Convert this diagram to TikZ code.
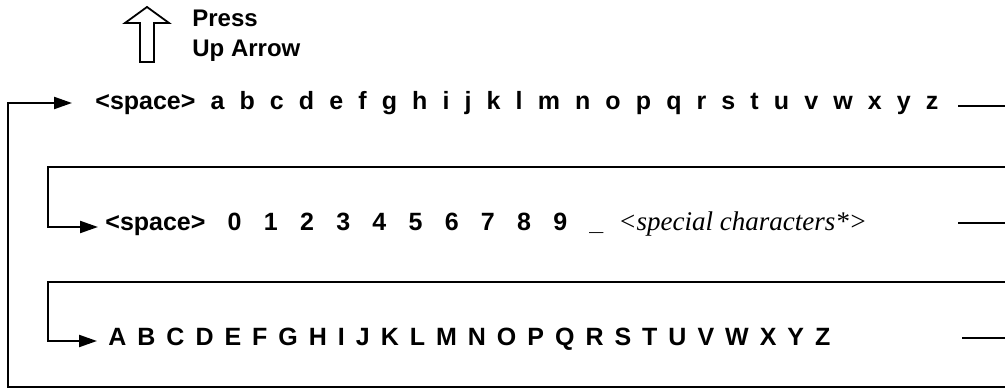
\documentclass[tikz,border=0pt]{standalone}
\usepackage{fontspec}
\setmainfont{Liberation Sans}
\newfontfamily\serifit{Liberation Serif}
\usetikzlibrary{arrows.meta}

\begin{document}
\begin{tikzpicture}[x=0.5pt,y=-0.5pt,
  wire/.style={line width=1.1pt},
  feed/.style={line width=1.1pt,-{Triangle[length=9pt,width=6pt]}},
  chars/.style={anchor=base west,inner sep=0pt,font=\bfseries\fontsize{12.5}{15}\selectfont}]
\useasboundingbox (0,0) rectangle (1005,389);

% outer loop, back to lower case
\coordinate (E0) at (1010,387);
\coordinate (C0) at (8,387);
\coordinate (C1) at (8,103);
\coordinate (In1) at (72,103);
\coordinate (Out1) at (958,106);
\coordinate (X1) at (1010,106);

% loop to digits
\coordinate (E2) at (1010,167);
\coordinate (C2t) at (48,167);
\coordinate (C2b) at (48,227);
\coordinate (In2) at (98,227);
\coordinate (Out2) at (958,223);
\coordinate (X2) at (1010,223);

% loop to upper case
\coordinate (E3) at (1010,282);
\coordinate (C3t) at (48,282);
\coordinate (C3b) at (48,341);
\coordinate (In3) at (97,341);
\coordinate (Out3) at (962,338);
\coordinate (X3) at (1010,338);

% up arrow key
\draw[line width=0.9pt] (147,7) -- (169,23) -- (154,23) -- (154,62) -- (140,62) -- (140,23) -- (125,23) -- cycle;
\node[chars,font=\bfseries\fontsize{12}{15}\selectfont] (press) at (192,27) {Press};
\node[chars,font=\bfseries\fontsize{12}{15}\selectfont] (uparrow) at (192,57) {Up Arrow};

\draw[feed] (E0) -- (C0) -- (C1) -- (In1);
\draw[feed] (E2) -- (C2t) -- (C2b) -- (In2);
\draw[feed] (E3) -- (C3t) -- (C3b) -- (In3);

\draw[wire] (Out1) -- (X1);
\draw[wire] (Out2) -- (X2);
\draw[wire] (Out3) -- (X3);

\node[chars] (lower) at (95,110) {\makebox[421.5pt]{<space>\hfill a\hfill b\hfill c\hfill d\hfill e\hfill f\hfill g\hfill h\hfill i\hfill j\hfill k\hfill l\hfill m\hfill n\hfill o\hfill p\hfill q\hfill r\hfill s\hfill t\hfill u\hfill v\hfill w\hfill x\hfill y\hfill z}};
\node[chars] (digits) at (105,231) {\makebox[249pt]{<space>\hfill 0\hfill 1\hfill 2\hfill 3\hfill 4\hfill 5\hfill 6\hfill 7\hfill 8\hfill 9\hfill \_}};
\node[anchor=base west,inner sep=0pt,font=\serifit\itshape\fontsize{13.5}{16}\selectfont] (special) at (618,231) {<special characters*>};
\node[chars] (upper) at (108,345) {\makebox[361pt]{A\hfill B\hfill C\hfill D\hfill E\hfill F\hfill G\hfill H\hfill I\hfill J\hfill K\hfill L\hfill M\hfill N\hfill O\hfill P\hfill Q\hfill R\hfill S\hfill T\hfill U\hfill V\hfill W\hfill X\hfill Y\hfill Z}};
\end{tikzpicture}
\end{document}
